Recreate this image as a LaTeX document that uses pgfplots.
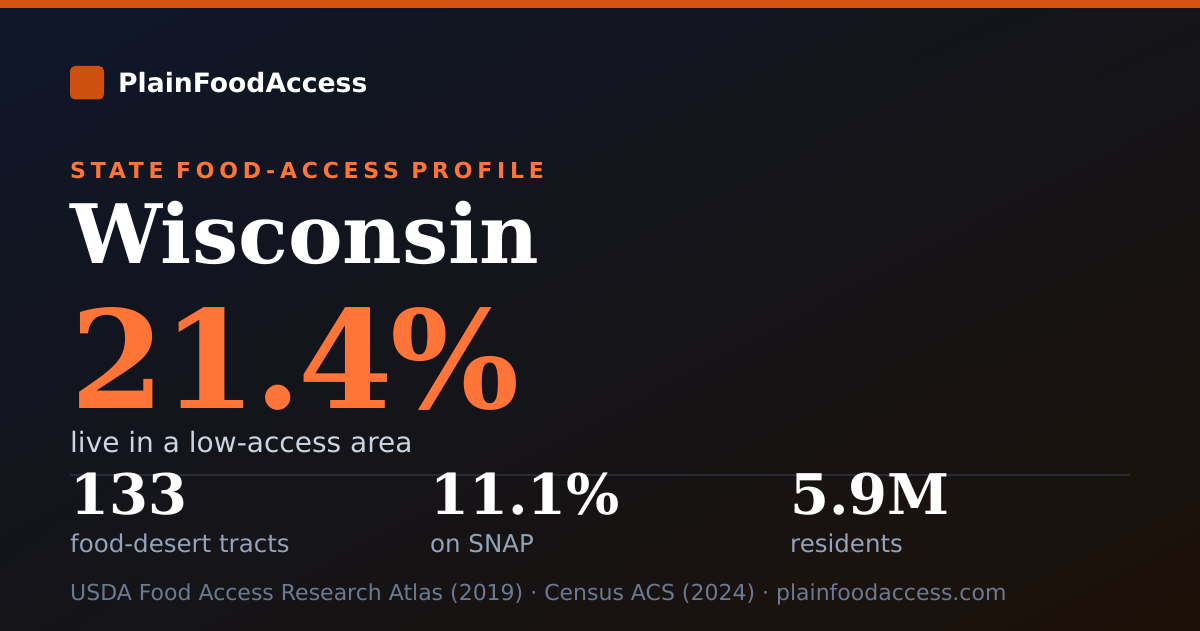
\documentclass[border=0pt]{standalone}
\usepackage{pgfplots}
\pgfplotsset{compat=1.18}
\usetikzlibrary{shadings}
\usepackage{fontspec}
\setmainfont{DejaVu Sans}
\newfontfamily\serifb{DejaVu Serif}[BoldFont={DejaVu Serif Bold}]
\newfontfamily\serifbig{DejaVu Serif}[BoldFont={DejaVu Serif Bold},LetterSpace=-2]
\newfontfamily\spaced{DejaVu Sans}[LetterSpace=21.6]
\definecolor{bgTL}{HTML}{0F172A}
\definecolor{bgMid}{HTML}{141419}
\definecolor{bgBR}{HTML}{1C1108}
\definecolor{barC}{HTML}{D4540F}
\definecolor{logoC}{HTML}{CF500E}
\definecolor{accent}{HTML}{FF7538}
\definecolor{liveC}{HTML}{CBD5E1}
\definecolor{labC}{HTML}{94A3B8}
\definecolor{footC}{HTML}{6B7A90}
\definecolor{divC}{HTML}{272C36}
\newcommand{\fs}[1]{\fontsize{#1}{#1}\selectfont}
\begin{document}
\begin{tikzpicture}
\begin{axis}[x=1pt,y=1pt,xmin=0,xmax=1200,ymin=0,ymax=630,hide axis,
  clip=false]
\shade[upper left=bgTL,upper right=bgMid,lower left=bgMid,lower right=bgBR]
  (axis cs:0,0) rectangle (axis cs:1200,630);
\fill[barC] (axis cs:0,622) rectangle (axis cs:1200,630);
\fill[logoC,rounded corners=5pt] (axis cs:70,530.5) rectangle (axis cs:104,564);
\node[anchor=base west,inner sep=0,white] at (axis cs:118,537.7)
  {\fs{26.6}\bfseries PlainFoodAccess};
\node[anchor=base west,inner sep=0,accent] at (axis cs:70,451)
  {\fs{22}\spaced\bfseries STATE FOOD-ACCESS PROFILE};
\node[anchor=base west,inner sep=0,white] at (axis cs:70,366)
  {\fs{82}\serifb\bfseries Wisconsin};
\node[anchor=base west,inner sep=0,accent] at (axis cs:70,222)
  {\fs{136}\serifbig\bfseries 21.4\%};
\node[anchor=base west,inner sep=0,liveC] at (axis cs:70,178)
  {\fs{28}live in a low-access area};
\addplot[divC,line width=1.5pt] coordinates {(70,155) (1130,155)};
\node[anchor=base west,inner sep=0,white] at (axis cs:70,116)
  {\fs{56}\serifb\bfseries 133};
\node[anchor=base west,inner sep=0,white] at (axis cs:430,116)
  {\fs{56}\serifb\bfseries 11.1\%};
\node[anchor=base west,inner sep=0,white] at (axis cs:790,116)
  {\fs{56}\serifb\bfseries 5.9M};
\node[anchor=base west,inner sep=0,labC] at (axis cs:70,78)
  {\fs{24.5}food-desert tracts};
\node[anchor=base west,inner sep=0,labC] at (axis cs:430,78)
  {\fs{24.5}on SNAP};
\node[anchor=base west,inner sep=0,labC] at (axis cs:790,78)
  {\fs{24.5}residents};
\node[anchor=base west,inner sep=0,footC] at (axis cs:70,30)
  {\fs{22}USDA Food Access Research Atlas (2019) · Census ACS (2024) · plainfoodaccess.com};
\end{axis}
\end{tikzpicture}
\end{document}
